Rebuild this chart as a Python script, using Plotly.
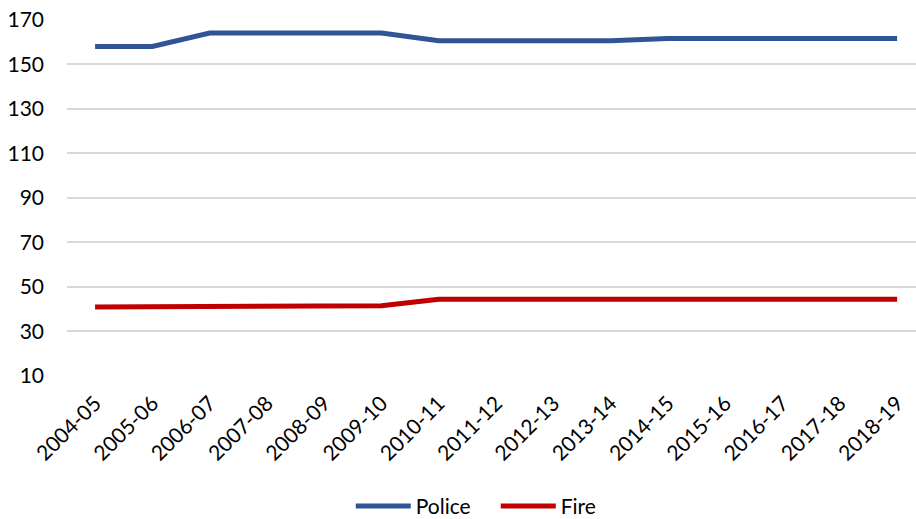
import plotly.graph_objects as go

years = ["2004-05", "2005-06", "2006-07", "2007-08", "2008-09", "2009-10", "2010-11",
         "2011-12", "2012-13", "2013-14", "2014-15", "2015-16", "2016-17", "2017-18", "2018-19"]
police = [158, 158, 164, 164, 164, 164, 160.5, 160.5, 160.5, 160.5, 161.5, 161.5, 161.5, 161.5, 161.5]
fire = [41, 41, 41, 41.3, 41.5, 41.5, 44.5, 44.5, 44.5, 44.5, 44.5, 44.5, 44.5, 44.5, 44.5]

font = "Lato, 'Open Sans', sans-serif"

fig = go.Figure()
fig.add_trace(go.Scatter(x=years, y=police, name="Police", mode="lines",
                         line=dict(color="#2F5597", width=5)))
fig.add_trace(go.Scatter(x=years, y=fire, name="Fire", mode="lines",
                         line=dict(color="#C00000", width=5)))

fig.update_layout(
    width=916, height=519,
    margin=dict(l=67, r=0, t=19, b=143, autoexpand=False),
    paper_bgcolor="white", plot_bgcolor="white",
    font=dict(family=font, size=21, color="#000000"),
    showlegend=True,
    legend=dict(orientation="h", x=0.505, xanchor="center", y=-0.365, yanchor="middle",
                font=dict(size=21), entrywidth=75, itemwidth=55),
)
fig.update_xaxes(
    type="category", range=[-0.49, 14.33], showgrid=False, zeroline=False,
    showline=False, tickangle=-45, ticks="", tickfont=dict(size=21),
    ticklabelstandoff=10, automargin=False,
)
# top of range nudged a hair past 170 so the top grid line is kept
fig.update_yaxes(
    range=[10, 170.3], tickvals=[10, 30, 50, 70, 90, 110, 130, 150, 170],
    showgrid=True, gridcolor="#D9D9D9", gridwidth=1.5, zeroline=False,
    showline=False, ticklabelstandoff=22, tickfont=dict(size=21), automargin=False,
)

# drop the browser's default 8px body margin so the figure fills the window
fig.write_html("out.html", config={"displayModeBar": False},
               post_script="document.body.style.margin='0';")
